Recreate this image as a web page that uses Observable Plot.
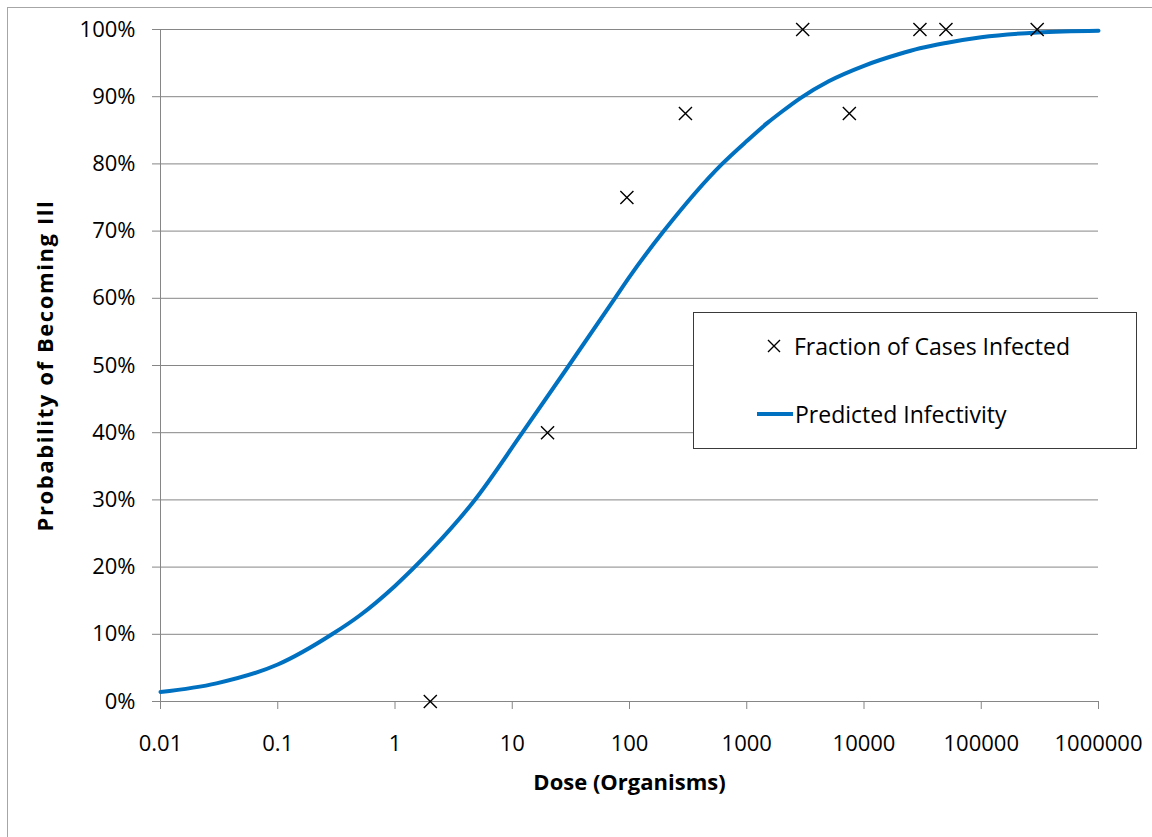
<!DOCTYPE html>
<html>
<head>
<meta charset="utf-8">
<script src="https://cdn.jsdelivr.net/npm/d3@7"></script>
<script src="https://cdn.jsdelivr.net/npm/@observablehq/plot@0.6"></script>
<style>
  html, body { margin: 0; padding: 0; background: #fff; }
  body { width: 1152px; height: 837px; position: relative; overflow: hidden; font-family: "Open Sans", Lato, sans-serif; }
  #frame { position: absolute; left: 7px; top: 7px; width: 1200px; height: 900px; border-left: 1px solid #a6a6a6; border-top: 1px solid #a6a6a6; }
  #chart { position: absolute; left: 0; top: 0; }
  #legend { position: absolute; left: 693px; top: 312px; width: 444px; height: 137px; border: 1px solid #3a3a3a; background: #fff; box-sizing: border-box; font-size: 23px; color: #000; }
  .item { position: absolute; display: flex; align-items: center; white-space: nowrap; }
</style>
</head>
<body>
<div id="frame"></div>
<div id="chart"></div>
<div id="legend"></div>
<script>
// Observed data (Fraction of Cases Infected)
const obsDose = [2, 20, 95, 300, 3000, 7500, 30000, 50000, 300000];
const obsFrac = [0.0, 0.40, 0.75, 0.875, 1.0, 0.875, 1.0, 1.0, 1.0];

// Predicted infectivity curve
const curveDose = [0.01, 0.03, 0.1, 0.29, 0.5, 1, 2, 4.7, 12.2, 30.4, 75, 100, 196, 617, 1000, 1500, 2000, 2870, 5000, 10000, 20000, 30000, 50000, 100000, 300000, 1000000];
const curveProb = [0.014, 0.027, 0.055, 0.10, 0.128, 0.172, 0.224, 0.298, 0.40, 0.50, 0.60, 0.632, 0.70, 0.80, 0.834, 0.861, 0.878, 0.898, 0.923, 0.946, 0.9635, 0.972, 0.980, 0.9885, 0.9955, 0.998];

const xTicks = [0.01, 0.1, 1, 10, 100, 1000, 10000, 100000, 1000000];
const xTickLabels = ["0.01", "0.1", "1", "10", "100", "1000", "10000", "100000", "1000000"];
const yTicks = [0, 0.1, 0.2, 0.3, 0.4, 0.5, 0.6, 0.7, 0.8, 0.9, 1.0];
const yTickLabels = ["0%", "10%", "20%", "30%", "40%", "50%", "60%", "70%", "80%", "90%", "100%"];

const seriesNames = ["Fraction of Cases Infected", "Predicted Infectivity"];
const xLabel = "Dose (Organisms)";
const yLabel = "Probability of Becoming Ill";

const obs = obsDose.map((d, i) => ({dose: d, frac: obsFrac[i]}));
const curve = curveDose.map((d, i) => ({dose: d, prob: curveProb[i]}));

const blue = "#0070C0";
const gray = "#868686";
const font = '"Open Sans", Lato, sans-serif';

const chart = Plot.plot({
  width: 1152,
  height: 837,
  marginLeft: 160,
  marginRight: 54,
  marginTop: 29,
  marginBottom: 136,
  style: {fontFamily: font, fontSize: "22px", color: "#000", background: "transparent"},
  x: {type: "log", domain: [0.01, 1000000]},
  y: {domain: [0, 1]},
  marks: [
    Plot.ruleY(yTicks, {stroke: gray, strokeWidth: 1}),
    Plot.ruleX([0.01], {stroke: gray, strokeWidth: 1}),
    Plot.axisY({ticks: yTicks, tickFormat: d => yTickLabels[yTicks.indexOf(d)], tickSize: 8, tickPadding: 17, stroke: gray, strokeOpacity: 1, fill: "#000", label: null, fontSize: 22}),
    Plot.axisX({ticks: xTicks, tickFormat: d => xTickLabels[xTicks.indexOf(d)], tickSize: 8, tickPadding: 26, stroke: gray, strokeOpacity: 1, fill: "#000", label: null, fontSize: 22}),
    Plot.line(curve, {x: "dose", y: "prob", stroke: blue, strokeWidth: 4, curve: "monotone-x"}),
    Plot.dot(obs, {x: "dose", y: "frac", symbol: "times", r: 6, stroke: "#000", strokeWidth: 1.4}),
    Plot.text([yLabel], {frameAnchor: "left", textAnchor: "middle", dx: -115, rotate: -90, fontWeight: "bold", fontSize: 22, fill: "#000"}),
    Plot.text([xLabel], {frameAnchor: "bottom", textAnchor: "middle", dy: 88, fontWeight: "bold", fontSize: 22, fill: "#000"})
  ]
});
d3.select(chart).selectAll("text").filter(function() { return this.textContent === yLabel; }).attr("letter-spacing", "1.6px");
document.getElementById("chart").appendChild(chart);

// Legend
const legend = document.getElementById("legend");
legend.innerHTML = `
  <div class="item" style="left:70px; top:16px; height:34px;">
    <svg width="20" height="20" style="margin-right:10px"><path d="M4,4L16,16M16,4L4,16" stroke="#000" stroke-width="1.4"/></svg>
    <span>${seriesNames[0]}</span>
  </div>
  <div class="item" style="left:61px; top:84px; height:34px;">
    <svg width="40" height="20"><line x1="2" y1="10" x2="38" y2="10" stroke="${blue}" stroke-width="4"/></svg>
    <span>${seriesNames[1]}</span>
  </div>`;
</script>
</body>
</html>
